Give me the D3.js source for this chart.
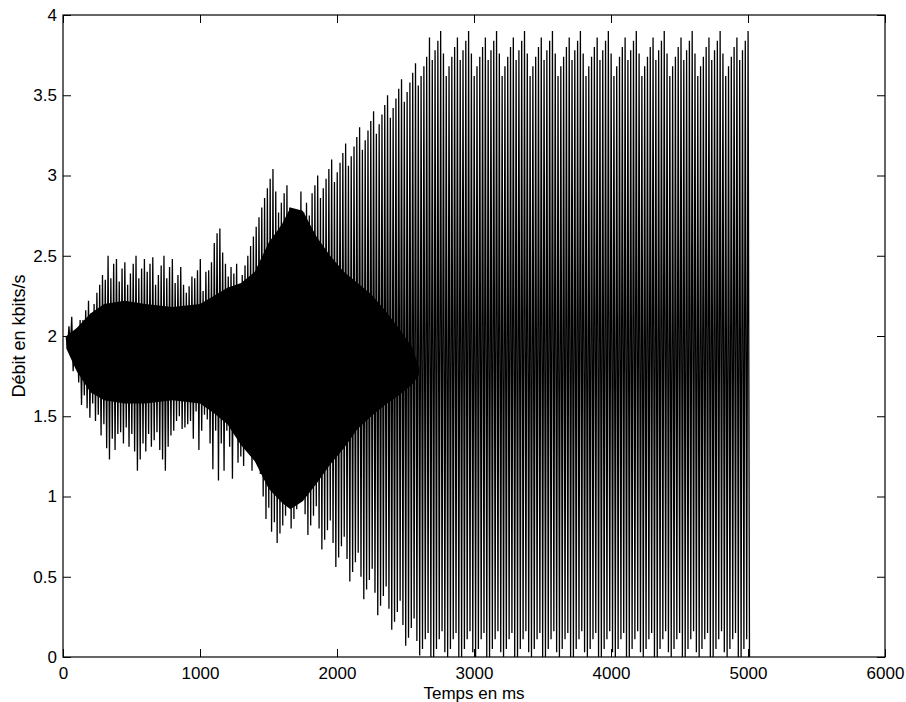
<!DOCTYPE html>
<html>
<head>
<meta charset="utf-8">
<script src="https://cdn.jsdelivr.net/npm/d3@7"></script>
<style>
  body { margin: 0; background: #fff; }
  svg { font-family: "Liberation Sans", Arial, Helvetica, sans-serif; }
</style>
</head>
<body>
<svg width="906" height="702"></svg>
<script>
// one spike every step ms, starting at t0 : peak value then trough value
let t0 = 23, step = 20.4;

let highs = [
  2.00, 2.06, 2.12, 2.00, 2.02, 2.10, 2.10, 2.16, 2.22, 2.14,
  2.20, 2.27, 2.32, 2.38, 2.35, 2.50, 2.36, 2.45, 2.48, 2.34,
  2.42, 2.46, 2.32, 2.39, 2.45, 2.50, 2.36, 2.42, 2.48, 2.40,
  2.45, 2.49, 2.32, 2.38, 2.44, 2.50, 2.36, 2.43, 2.48, 2.33,
  2.38, 2.43, 2.32, 2.27, 2.31, 2.37, 2.36, 2.41, 2.48, 2.28,
  2.40, 2.41, 2.46, 2.58, 2.64, 2.67, 2.52, 2.45, 2.37, 2.43,
  2.39, 2.45, 2.30, 2.38, 2.44, 2.50, 2.56, 2.62, 2.68, 2.74,
  2.80, 2.86, 2.92, 2.98, 3.04, 2.90, 2.77, 2.83, 2.89, 2.94,
  2.80, 2.66, 2.72, 2.78, 2.90, 2.77, 2.83, 2.75, 2.89, 2.94,
  3.00, 2.86, 2.92, 2.98, 3.04, 3.10, 2.96, 3.02, 3.08, 3.14,
  3.20, 3.06, 3.12, 3.18, 3.24, 3.30, 3.16, 3.22, 3.28, 3.34,
  3.40, 3.26, 3.32, 3.38, 3.44, 3.50, 3.36, 3.42, 3.48, 3.54,
  3.60, 3.46, 3.52, 3.58, 3.64, 3.70, 3.56, 3.62, 3.68, 3.74,
  3.86, 3.72, 3.78, 3.84, 3.90, 3.76, 3.62, 3.68, 3.74, 3.80,
  3.86, 3.72, 3.78, 3.84, 3.90, 3.76, 3.62, 3.68, 3.74, 3.80,
  3.86, 3.72, 3.78, 3.84, 3.90, 3.76, 3.62, 3.68, 3.74, 3.80,
  3.86, 3.72, 3.78, 3.84, 3.90, 3.76, 3.62, 3.68, 3.74, 3.80,
  3.86, 3.72, 3.78, 3.84, 3.90, 3.76, 3.62, 3.68, 3.74, 3.80,
  3.86, 3.72, 3.78, 3.84, 3.90, 3.76, 3.62, 3.68, 3.74, 3.80,
  3.86, 3.72, 3.78, 3.84, 3.90, 3.76, 3.62, 3.68, 3.74, 3.80,
  3.86, 3.72, 3.78, 3.84, 3.90, 3.76, 3.62, 3.68, 3.74, 3.80,
  3.86, 3.72, 3.78, 3.84, 3.90, 3.76, 3.62, 3.68, 3.74, 3.80,
  3.86, 3.72, 3.78, 3.84, 3.90, 3.76, 3.62, 3.68, 3.74, 3.80,
  3.86, 3.72, 3.78, 3.84, 3.90, 3.76, 3.62, 3.68, 3.74, 3.80,
  3.86, 3.72, 3.78, 3.84, 3.90
];

let lows = [
  1.92, 1.93, 1.78, 1.80, 1.71, 1.57, 1.63, 1.55, 1.49, 1.58,
  1.47, 1.51, 1.38, 1.45, 1.30, 1.23, 1.36, 1.29, 1.39, 1.40,
  1.33, 1.43, 1.31, 1.39, 1.28, 1.16, 1.23, 1.33, 1.28, 1.39,
  1.31, 1.35, 1.40, 1.29, 1.23, 1.16, 1.31, 1.38, 1.41, 1.47,
  1.50, 1.42, 1.43, 1.45, 1.47, 1.36, 1.53, 1.29, 1.41, 1.51,
  1.48, 1.33, 1.17, 1.41, 1.10, 1.33, 1.16, 1.41, 1.31, 1.11,
  1.40, 1.21, 1.25, 1.19, 1.35, 1.28, 1.16, 1.30, 1.22, 1.14,
  1.00, 0.86, 0.93, 0.78, 0.84, 0.71, 0.77, 0.82, 0.88, 0.95,
  0.80, 0.86, 0.92, 0.98, 1.04, 0.89, 0.76, 0.82, 0.88, 0.94,
  0.80, 0.67, 0.73, 0.79, 0.85, 0.71, 0.56, 0.62, 0.69, 0.75,
  0.61, 0.47, 0.53, 0.59, 0.65, 0.50, 0.36, 0.42, 0.48, 0.55,
  0.40, 0.26, 0.32, 0.38, 0.44, 0.30, 0.17, 0.22, 0.28, 0.35,
  0.20, 0.07, 0.12, 0.18, 0.24, 0.10, 0.01, 0.05, 0.11, 0.15,
  0.00, 0.00, 0.05, 0.11, 0.16, 0.03, 0.00, 0.05, 0.11, 0.15,
  0.00, 0.00, 0.05, 0.11, 0.16, 0.03, 0.00, 0.05, 0.11, 0.15,
  0.00, 0.00, 0.05, 0.11, 0.16, 0.03, 0.00, 0.05, 0.11, 0.15,
  0.00, 0.00, 0.05, 0.11, 0.16, 0.03, 0.00, 0.05, 0.11, 0.15,
  0.00, 0.00, 0.05, 0.11, 0.16, 0.03, 0.00, 0.05, 0.11, 0.15,
  0.00, 0.00, 0.05, 0.11, 0.16, 0.03, 0.00, 0.05, 0.11, 0.15,
  0.00, 0.00, 0.05, 0.11, 0.16, 0.03, 0.00, 0.05, 0.11, 0.15,
  0.00, 0.00, 0.05, 0.11, 0.16, 0.03, 0.00, 0.05, 0.11, 0.15,
  0.00, 0.00, 0.05, 0.11, 0.16, 0.03, 0.00, 0.05, 0.11, 0.15,
  0.00, 0.00, 0.05, 0.11, 0.16, 0.03, 0.00, 0.05, 0.11, 0.15,
  0.00, 0.00, 0.05, 0.11, 0.16, 0.03, 0.00, 0.05, 0.11, 0.15,
  0.00, 0.00, 0.05, 0.11, 0.00
];

// band where the trace is so dense it prints solid black
let coreTime   = [25, 100, 200, 300, 450, 600, 800, 1000, 1100, 1200, 1300, 1400, 1500, 1600, 1660, 1750, 1850, 1950, 2050, 2150, 2250, 2350, 2450, 2550, 2600];
let coreTop    = [2.00, 2.05, 2.14, 2.20, 2.22, 2.20, 2.18, 2.20, 2.25, 2.30, 2.33, 2.40, 2.58, 2.70, 2.80, 2.78, 2.62, 2.50, 2.40, 2.33, 2.26, 2.16, 2.05, 1.93, 1.80];
let coreBottom = [1.92, 1.78, 1.65, 1.60, 1.58, 1.58, 1.60, 1.58, 1.52, 1.45, 1.32, 1.22, 1.05, 0.96, 0.92, 0.97, 1.08, 1.20, 1.30, 1.42, 1.50, 1.57, 1.63, 1.70, 1.76];

let xTicks = [0, 1000, 2000, 3000, 4000, 5000, 6000],
    yTicks = [0, 0.5, 1, 1.5, 2, 2.5, 3, 3.5, 4];

let margin = {left: 63, top: 15},
    width = 822,
    height = 642,
    fontSize = 17;

let xScale = d3.scaleLinear().domain([0, 6000]).range([0, width]),
    yScale = d3.scaleLinear().domain([0, 4]).range([height, 0]);

let svg = d3.select('svg');
let chart = svg.append('g')
    .attr('transform', `translate(${margin.left},${margin.top})`);

// solid core of the oscillation
let core = coreTime.map((t, i) => ({t: t, top: coreTop[i], bottom: coreBottom[i]}));
chart.append('path')
    .datum(core)
    .attr('fill', '#000')
    .attr('d', d3.area()
        .x(d => xScale(d.t))
        .y0(d => yScale(d.bottom))
        .y1(d => yScale(d.top)));

// trace: each spike goes up to its peak then down to its trough
let points = [];
highs.forEach((h, i) => {
    let t = t0 + i * step;
    points.push([t, h]);
    points.push([t + step / 2, lows[i]]);
});

chart.append('path')
    .datum(points)
    .attr('fill', 'none')
    .attr('stroke', '#000')
    .attr('stroke-width', 1.3)
    .attr('stroke-linejoin', 'miter')
    .attr('d', d3.line()
        .x(d => xScale(d[0]))
        .y(d => yScale(d[1])));

// axes, matlab style: ticks pointing inward on all four sides
let tick = 8;
let styleAxis = g => {
    g.select('.domain').remove();
    g.selectAll('line').attr('stroke', '#000');
    g.selectAll('text').attr('fill', '#000').style('font-size', fontSize + 'px');
};

chart.append('g')
    .attr('transform', `translate(0,${height})`)
    .call(d3.axisBottom(xScale).tickValues(xTicks).tickFormat(d3.format('d'))
        .tickSize(-tick).tickPadding(10))
    .call(styleAxis);

chart.append('g')
    .call(d3.axisTop(xScale).tickValues(xTicks).tickFormat('').tickSize(-tick))
    .call(styleAxis);

chart.append('g')
    .call(d3.axisLeft(yScale).tickValues(yTicks).tickFormat(d3.format('~g'))
        .tickSize(-tick).tickPadding(6))
    .call(styleAxis);

chart.append('g')
    .attr('transform', `translate(${width},0)`)
    .call(d3.axisRight(yScale).tickValues(yTicks).tickFormat('').tickSize(-tick))
    .call(styleAxis);

chart.append('rect')
    .attr('width', width)
    .attr('height', height)
    .attr('fill', 'none')
    .attr('stroke', '#000')
    .attr('stroke-width', 1.2);

chart.append('text')
    .attr('x', width / 2)
    .attr('y', height + 41.5)
    .attr('text-anchor', 'middle')
    .style('font-size', fontSize + 'px')
    .text('Temps en ms');

chart.append('text')
    .attr('transform', `translate(${-38},${height / 2}) rotate(-90)`)
    .attr('text-anchor', 'middle')
    .style('font-size', '18px')
    .text('Débit en kbits/s');
</script>
</body>
</html>
